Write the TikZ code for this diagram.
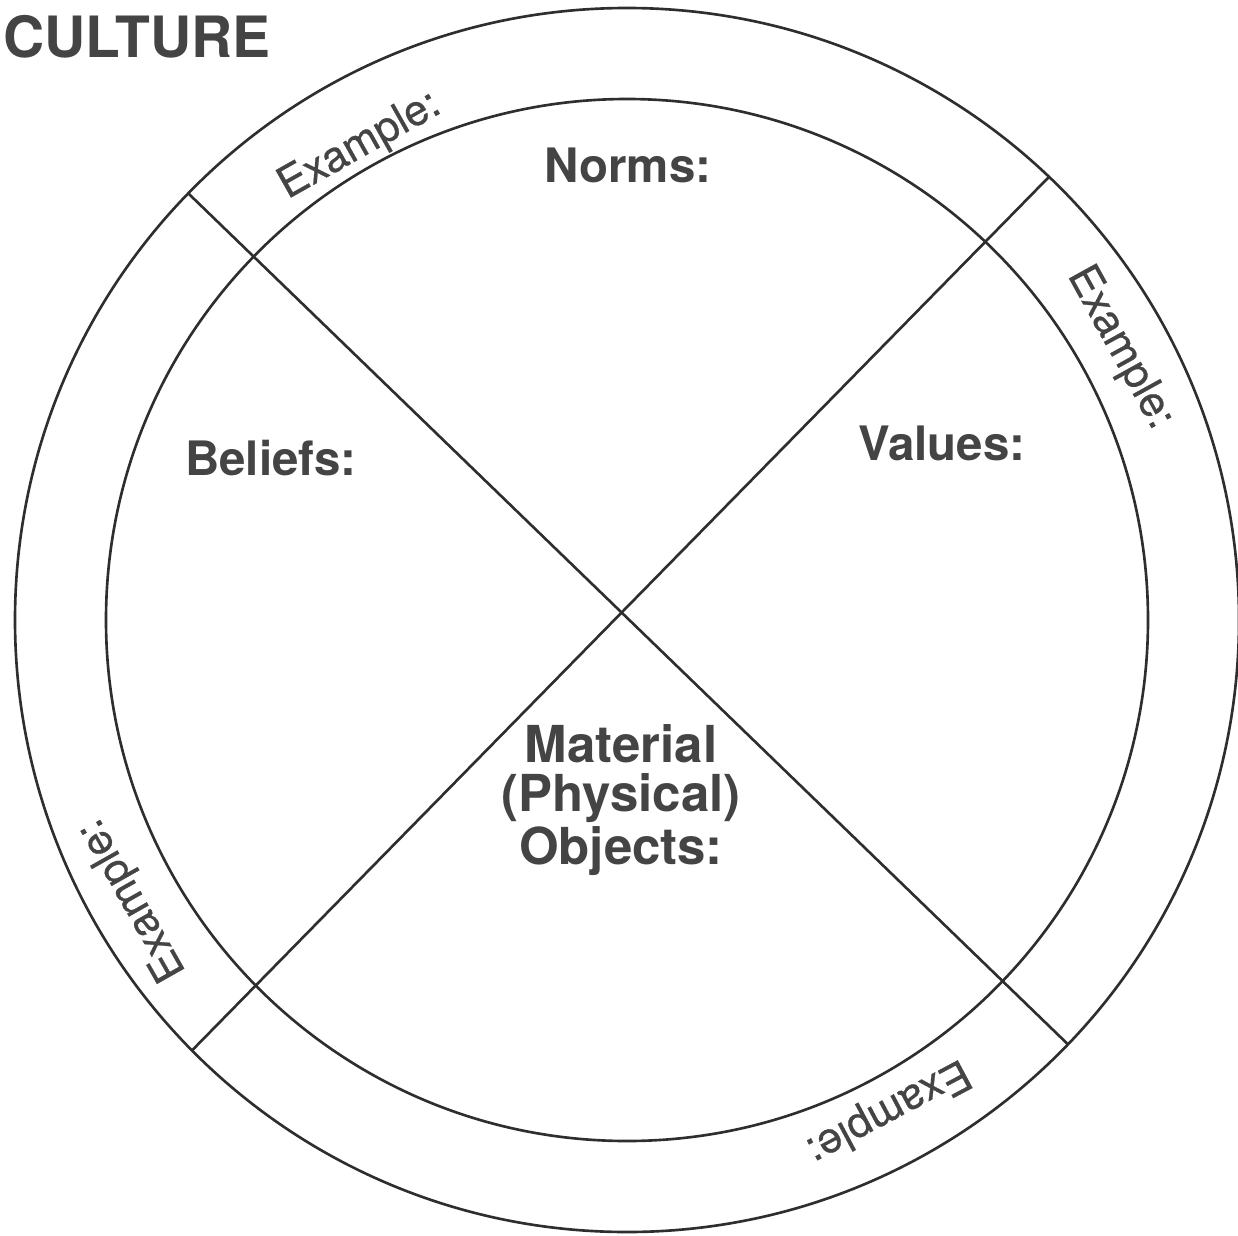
\documentclass[tikz,border=0pt]{standalone}
\usepackage{fontspec}
\setmainfont{TeX Gyre Heros}
\newfontfamily\exfont[FakeBold=0.6]{TeX Gyre Heros}
\usetikzlibrary{calc}
\definecolor{ink}{HTML}{444444}
\definecolor{rim}{HTML}{2E2E2E}

\begin{document}
\begin{tikzpicture}[
	ring/.style={line width=0.75pt, color=rim},
	heading/.style={font=\bfseries\fontsize{16.2}{19}\selectfont, text=ink, inner sep=0},
	part/.style={font=\bfseries\fontsize{13.5}{16}\selectfont, text=ink, inner sep=0},
	example/.style={font=\exfont\fontsize{12.2}{14}\selectfont, text=ink, inner sep=0}
	]
			%%%%% START %%%%%
			
			\useasboundingbox (0, 0) rectangle (12.38, -12.35);
			\coordinate (c) at (6.27, -6.2);
			
			\node[heading, anchor=base west] (title) at (0.03, -0.57) {CULTURE};
			
			\draw[ring] (c) circle (6.12);
			\draw[ring] (c) circle (5.21);
			\draw[ring] ($(c)+(135.8:6.12)$) -- ($(c)+(-43.9:6.12)$);
			\draw[ring] ($(c)+(46.4:6.12)$) -- ($(c)+(224.7:6.12)$);
			
			\node[part, anchor=base] (norms) at (6.28, -1.82) {Norms:};
			\node[part, anchor=base] (beliefs) at (2.71, -4.75) {Beliefs:};
			\node[part, anchor=base] (values) at (9.42, -4.6) {Values:};
			\node[part, font=\bfseries\fontsize{14.5}{13.8}\selectfont, align=center] (material) at (6.21, -8.0) {Material\\(Physical)\\Objects:};
			
			\node[example, rotate=29.4] (exnw) at ($(c)+(119.4:5.44)$) {Example:};
			\node[example, rotate=-61.1] (exne) at ($(c)+(28.9:5.63)$) {Example:};
			\node[example, rotate=119.5] (exsw) at ($(c)+(209.5:5.68)$) {Example:};
			\node[example, rotate=-152] (exse) at ($(c)+(-62:5.55)$) {Example:};
			
			%%%%% END %%%%%
\end{tikzpicture}
\end{document}
